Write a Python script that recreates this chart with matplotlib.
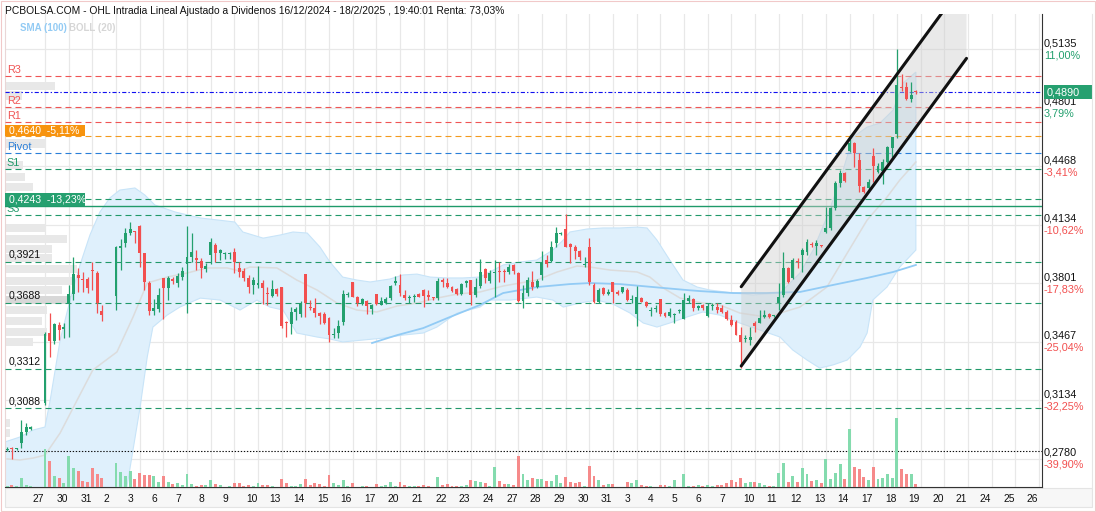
import numpy as np
import matplotlib
matplotlib.use('Agg')
import matplotlib.pyplot as plt
import matplotlib.transforms as mtransforms
from matplotlib.patches import Rectangle, Polygon
from matplotlib.lines import Line2D

plt.rcParams['font.family'] = ['Liberation Sans', 'DejaVu Sans']
plt.rcParams['lines.scale_dashes'] = False

# ---------------- datos ----------------
# posicion de cada vela (5 huecos por sesion, sesion 27/12 empieza en el hueco 8)
slot = list(range(0, 6)) + list(range(8, 21)) + list(range(23, 193))

op = [.2850, .2860, .2855, .2889, .2952, .2970,
      .3115, .3518, .3472, .3562, .3541, .3685, .3739, .3847, .3824, .3824, .3878, .3856, .3642,
      .3727, .3999, .4027, .4084, .4098, .4126, .3971, .3803, .3642, .3652,
      .3828, .3771, .3824, .3803, .3838, .3910, .3951, .3942, .3927, .3883,
      .3961, .4018, .3971, .3968, .3966, .3979, .3884, .3871, .3828, .3790,
      .3792, .3803, .3744, .3729, .3767, .3777, .3575, .3568, .3634, .3624,
      .3853, .3663, .3659, .3632, .3624, .3603, .3505, .3515, .3580, .3733,
      .3809, .3720, .3682, .3699, .3653, .3737, .3676, .3686, .3714, .3803,
      .3790, .3733, .3718, .3722, .3739, .3761, .3733, .3716, .3717, .3818,
      .3803, .3777, .3767, .3739, .3803, .3818, .3733, .3784, .3879, .3813,
      .3858, .3868, .3868, .3864, .3904, .3856, .3699, .3746, .3809, .3777,
      .3847, .3932, .3928, .4027, .4080, .4109, .4023, .4009, .3985, .3906,
      .4008, .3790, .3695, .3771, .3739, .3809, .3752, .3752, .3761, .3706,
      .3625, .3718, .3695, .3641, .3653, .3710, .3628, .3613, .3620, .3640,
      .3596, .3700, .3710, .3660, .3676, .3613, .3668, .3663, .3656, .3634,
      .3590, .3581, .3505, .3483, .3476, .3575, .3575, .3606, .3625, .3611,
      .3689, .3733, .3885, .3828, .3925, .3961, .3980, .4018, .4014, .4018,
      .4094, .4113, .4227, .4369, .4426, .4555, .4601, .4502, .4350, .4341,
      .4525, .4436, .4442, .4493, .4569, .4651, .4915, .4920, .4850, .4895]

hi = [.2865, .2865, .2862, .3020, .3003, .2985,
      .3520, .3630, .3575, .3581, .3573, .3790, .3951, .3885, .3866, .3837, .3923, .3871, .3676,
      .4015, .4050, .4113, .4151, .4098, .4132, .3975, .3810, .3710, .3771,
      .3830, .3841, .3836, .3860, .3890, .4126, .4086, .3990, .3942, .3915,
      .4056, .4028, .3994, .3979, .3979, .3999, .3923, .3885, .3847, .3836,
      .3898, .3818, .3777, .3818, .3775, .3780, .3585, .3663, .3667, .3699,
      .3853, .3704, .3714, .3638, .3636, .3609, .3546, .3590, .3761, .3748,
      .3809, .3727, .3716, .3704, .3682, .3741, .3721, .3721, .3790, .3842,
      .3853, .3761, .3733, .3740, .3744, .3767, .3761, .3721, .3828, .3828,
      .3828, .3785, .3771, .3800, .3818, .3818, .3830, .3936, .3885, .3875,
      .3932, .3923, .3879, .3907, .3907, .3862, .3790, .3836, .3871, .3826,
      .3985, .3961, .4042, .4119, .4094, .4195, .4029, .4018, .3991, .3947,
      .4056, .3799, .3770, .3777, .3765, .3809, .3761, .3780, .3771, .3733,
      .3784, .3723, .3699, .3666, .3676, .3710, .3638, .3657, .3628, .3655,
      .3742, .3733, .3716, .3676, .3682, .3687, .3690, .3686, .3676, .3650,
      .3620, .3590, .3552, .3505, .3552, .3583, .3648, .3650, .3630, .3619,
      .3799, .3980, .3894, .3942, .3942, .3999, .4050, .4037, .4046, .4020,
      .4236, .4236, .4385, .4445, .4435, .4645, .4607, .4540, .4354, .4392,
      .4569, .4487, .4506, .4582, .4635, .5133, .4992, .4949, .4949, .4900]

lo = [.2845, .2795, .2850, .2861, .2935, .2965,
      .3105, .3379, .3454, .3476, .3488, .3495, .3704, .3752, .3752, .3746, .3761, .3628, .3586,
      .3647, .3875, .4008, .4075, .4027, .3894, .3761, .3619, .3619, .3638,
      .3594, .3704, .3795, .3781, .3818, .3628, .3922, .3876, .3828, .3864,
      .3910, .3920, .3933, .3937, .3937, .3857, .3837, .3811, .3742, .3738,
      .3771, .3682, .3676, .3720, .3727, .3546, .3492, .3509, .3588, .3607,
      .3609, .3647, .3609, .3569, .3569, .3467, .3490, .3486, .3562, .3724,
      .3720, .3669, .3676, .3624, .3624, .3676, .3676, .3682, .3704, .3792,
      .3727, .3704, .3686, .3694, .3720, .3666, .3704, .3706, .3704, .3776,
      .3771, .3752, .3733, .3733, .3777, .3676, .3722, .3771, .3799, .3799,
      .3720, .3809, .3809, .3851, .3851, .3693, .3657, .3727, .3761, .3771,
      .3818, .3890, .3923, .4008, .4075, .4005, .3917, .3937, .3933, .3890,
      .3790, .3686, .3688, .3733, .3735, .3688, .3735, .3746, .3699, .3689,
      .3556, .3693, .3665, .3613, .3638, .3613, .3608, .3608, .3572, .3630,
      .3596, .3690, .3644, .3647, .3650, .3608, .3650, .3629, .3629, .3590,
      .3556, .3505, .3315, .3467, .3448, .3524, .3571, .3600, .3604, .3606,
      .3647, .3723, .3800, .3822, .3885, .3866, .3961, .4009, .3961, .4009,
      .4084, .4103, .4218, .4350, .4378, .4550, .4464, .4322, .4312, .4331,
      .4379, .4426, .4366, .4487, .4521, .4626, .4897, .4844, .4835, .4880]

cl = [.2855, .2855, .2858, .2952, .2980, .2980,
      .3509, .3472, .3568, .3533, .3552, .3738, .3853, .3832, .3818, .3774, .3872, .3685, .3619,
      .4008, .4011, .4084, .4109, .4090, .3971, .3809, .3642, .3657, .3733,
      .3771, .3828, .3813, .3841, .3870, .3951, .3980, .3932, .3885, .3898,
      .4037, .3974, .3989, .3972, .3972, .3919, .3866, .3828, .3780, .3818,
      .3803, .3771, .3741, .3765, .3737, .3556, .3572, .3634, .3653, .3682,
      .3689, .3660, .3632, .3615, .3575, .3505, .3510, .3556, .3738, .3738,
      .3723, .3686, .3710, .3672, .3676, .3682, .3699, .3710, .3784, .3815,
      .3746, .3718, .3721, .3727, .3723, .3727, .3723, .3714, .3813, .3809,
      .3777, .3758, .3739, .3794, .3815, .3733, .3777, .3866, .3828, .3856,
      .3862, .3864, .3864, .3893, .3871, .3699, .3742, .3818, .3780, .3813,
      .3923, .3909, .4008, .4088, .4086, .4008, .4009, .3981, .3947, .3910,
      .3809, .3695, .3761, .3739, .3752, .3752, .3739, .3777, .3704, .3710,
      .3720, .3695, .3670, .3645, .3657, .3623, .3613, .3634, .3625, .3644,
      .3704, .3713, .3660, .3670, .3660, .3670, .3672, .3647, .3634, .3596,
      .3562, .3505, .3467, .3487, .3495, .3556, .3603, .3619, .3609, .3614,
      .3723, .3885, .3809, .3932, .3922, .3989, .4037, .4016, .4031, .4015,
      .4113, .4227, .4369, .4426, .4384, .4601, .4544, .4354, .4322, .4379,
      .4468, .4468, .4493, .4578, .4632, .4930, .4912, .4848, .4873, .4890]

vol = [1.3, 2, 1.5, 8.7, 2, 1,
       38, 26, 11.5, 9.5, 4.5, 31.5, 18.7, 16.3, 6.3, 5.3, 19.3, 13, 9.3,
       23.7, 15.3, 11, 16.3, 7.7, 14.3, 12, 12, 11, 5.3,
       11, 4.7, 3, 3.7, 2, 12.7, 2.7, 1, 2, 2,
       7, 2.7, 2, 0.5, 1, 4, 4, 1.3, 2, 1,
       3.7, 2, 2, 1.3, 0.5, 8, 3.7, 1.3, 1.3, 2.7,
       7.7, 2, 3.7, 3, 1.3, 11.7, 3.7, 1.7, 7, 1.3,
       3.7, 0.5, 0.7, 1.3, 0.5, 2.7, 1.3, 2, 5.3, 1.3,
       4.7, 2, 1.3, 1, 1.3, 2, 1.3, 0.5, 9.7, 2,
       3, 0.7, 0.7, 1.3, 2, 7, 6, 5.3, 3.7, 1.3,
       19.7, 6.3, 2.7, 2.7, 1.7, 31, 12.7, 7, 8.7, 7.7,
       7.7, 6, 6, 11.7, 3.7, 9.7, 5.3, 3.7, 5.3, 1.3,
       21, 11, 7, 2, 3, 3, 0.5, 0.5, 4.7, 3.7,
       7, 2, 1.3, 1.3, 0.5, 1.7, 2, 1, 7, 0.5,
       13, 1.3, 1.3, 2, 1, 1.7, 1.5, 2, 1.7, 3.7,
       7.3, 5.3, 8.7, 4.3, 5.3, 5.3, 4.3, 1.7, 0.7, 0.7,
       13.7, 24.3, 4.7, 11.3, 5.3, 19.3, 12.7, 6, 7.3, 3.7,
       28.3, 8.3, 13.7, 23.3, 7.7, 57.7, 20.3, 17.7, 10.3, 6.7,
       20.3, 7.7, 9.3, 12.7, 9.3, 69.3, 18.3, 12.7, 12.7, 2.7]

# bandas de Bollinger (20) y SMA (100)
boll_up_x = [-0.45, 2.7, 5.5, 8.0, 9.1, 11.2, 13.3, 15.4, 17.5, 19.6, 21.7, 23.8, 27.0, 29.1, 31.2,
             35.5, 40.8, 48.1, 49.8, 54.1, 57.7, 60.4, 63.4, 66.1, 68.2, 70.9, 73.9, 76.7, 80.9,
             83.6, 86.6, 89.4, 93.0, 96.3, 99.9, 104.8, 108.4, 111.9, 115.3, 117.5, 118.9, 122.5,
             125.9, 129.5, 133.1, 135.2, 137.3, 140.0, 142.8, 145.8, 148.5, 153.4, 157.6, 163.3,
             167.5, 170.3, 173.2, 176.0, 178.7, 181.7, 184.4, 187.2, 189.3, 192.0]
boll_up = [.2895, .2923, .2963, .2980, .3134, .3476, .3704, .3904, .4075, .4206, .4286, .4331, .4343,
           .4303, .4246, .4206, .4172, .4149, .4092, .4057, .4075, .4092, .4086, .4006, .3921, .3835,
           .3818, .3807, .3824, .3847, .3852, .3835, .3830, .3830, .3835, .3904, .3921, .3932, .3989,
           .4046, .4092, .4109, .4115, .4115, .4120, .4115, .4046, .3932, .3818, .3778, .3761, .3744,
           .3733, .3744, .3858, .3989, .4177, .4388, .4633, .4690, .4713, .4787, .4941, .5004]
boll_lo_x = [-0.45, 8.0, 13.3, 19.6, 22.8, 25.3, 28.1, 29.6, 30.8, 33.8, 36.5, 40.8, 45.0, 49.2, 52.8,
             55.5, 58.3, 61.2, 65.5, 68.2, 70.9, 75.2, 79.4, 83.6, 87.9, 90.8, 95.1, 99.9, 102.0,
             106.3, 111.9, 115.3, 117.5, 121.0, 124.6, 128.0, 131.6, 134.4, 137.3, 140.0, 143.6,
             147.0, 150.6, 154.8, 163.3, 166.0, 169.0, 171.7, 174.5, 177.5, 180.2, 181.7, 182.9,
             185.9, 188.6, 192.0]
boll_lo = [.2592, .2610, .2222, .2222, .2393, .2638, .3094, .3379, .3550, .3618, .3664, .3715, .3704,
           .3647, .3704, .3664, .3647, .3516, .3493, .3482, .3465, .3476, .3487, .3504, .3516, .3550,
           .3630, .3664, .3704, .3704, .3721, .3704, .3664, .3687, .3704, .3681, .3630, .3573, .3550,
           .3573, .3607, .3636, .3618, .3573, .3493, .3419, .3362, .3316, .3334, .3362, .3436, .3516,
           .3704, .3778, .3892, .3989]
boll_mid_x = [0, 2.7, 5.5, 8.0, 11.2, 14.8, 18.1, 23.2, 26.6, 29.6, 33.8, 38.0, 42.2, 46.5, 49.2, 51.3,
              57.0, 61.2, 65.5, 69.7, 73.9, 78.1, 82.4, 86.6, 90.8, 95.1, 99.9, 104.8, 111.9, 116.2,
              120.4, 123.2, 127.4, 133.1, 135.8, 138.6, 142.2, 147.0, 150.6, 154.8, 160.5, 167.5,
              173.2, 177.5, 181.7, 185.9, 188.6, 192.0]
boll_mid = [.2798, .2792, .2803, .2820, .2946, .3134, .3305, .3408, .3607, .3801, .3835, .3858, .3887,
            .3887, .3869, .3892, .3887, .3818, .3761, .3687, .3647, .3636, .3670, .3687, .3715, .3738,
            .3750, .3784, .3818, .3864, .3898, .3892, .3875, .3864, .3835, .3773, .3715, .3687, .3676,
            .3630, .3607, .3664, .3778, .3972, .4160, .4291, .4388, .4491]
sma_x = [77.1, 82.4, 87.9, 93.0, 99.9, 104.8, 111.9, 118.9, 123.2, 129.5, 136.5, 143.6, 146.4, 153.4,
         160.5, 167.5, 174.5, 181.7, 187.2, 192.0]
sma = [.3459, .3504, .3544, .3601, .3676, .3744, .3778, .3795, .3801, .3795, .3778, .3761, .3755,
       .3744, .3744, .3750, .3790, .3830, .3864, .3904]

# volumen por precio (perfil a la izquierda)
prof_price = [.4924, .4870, .4596, .4474, .4405, .4348, .4115, .4052, .3995, .3944, .3881, .3813,
              .3761, .3704, .3647, .3584, .3522, .3465, .3003, .2946, .2820]
prof_vol = [50, 17, 40, 18, 20, 28, 40, 62, 47, 47, 72, 70, 57, 103, 42, 37, 42, 28, 5, 5, 5]

# canal alcista dibujado
chan_x = [155.1, 202.7]
chan_up = [0.3780, 0.5532]
chan_lo = [0.3328, 0.5082]

# pivotes (la etiqueta S2 queda tapada por la caja verde)
piv_names = ['R3', 'R2', 'R1', 'Pivot', 'S1', '', 'S3']
piv_prices = [0.4983, 0.4804, 0.4721, 0.4540, 0.4451, 0.4278, 0.4189]
piv_colors = ['#f05555', '#f05555', '#f05555', '#2a7fd8', '#21996a', '#21996a', '#21996a']

sup_prices = [0.3921, 0.3688, 0.3312, 0.3088]
sup_labels = ['0,3921', '0,3688', '0,3312', '0,3088']

last_price = 0.4890
ref_close = 0.2843
alert_hi = 0.4640
alert_lo = 0.4243

grid_prices = [0.5135, 0.4801, 0.4468, 0.4134, 0.3801, 0.3467, 0.3134, 0.2800]
price_labels = ['0,5135', '0,4801', '0,4468', '0,4134', '0,3801', '0,3467', '0,3134', '0,2780']
pct_labels = ['11,00%', '3,79%', '-3,41%', '-10,62%', '-17,83%', '-25,04%', '-32,25%', '-39,90%']

days = ['27', '30', '31', '2', '3', '6', '7', '8', '9', '10', '13', '14', '15', '16', '17', '20',
        '21', '22', '23', '24', '27', '28', '29', '30', '31', '3', '4', '5', '6', '7', '10', '11',
        '12', '13', '14', '17', '18', '19', '20', '21', '24', '25', '26']

GREEN = '#23a06e'
RED = '#f24f4f'

# ---------------- figura ----------------
fig = plt.figure(figsize=(10.96, 5.12), dpi=100)
ax = fig.add_axes([5 / 1096, 25 / 512, 1037 / 1096, 473 / 512])
ax.set_xlim(-0.45, 218.65)
ax.set_ylim(0.2638, 0.5335)

day_slots = 8 + 5 * np.arange(len(days))
ax.set_xticks(day_slots)
ax.set_yticks(grid_prices)
ax.tick_params(length=0, labelbottom=False, labelleft=False)
ax.grid(color='#e8e8e8', lw=0.9)
ax.set_axisbelow(True)
ax.spines['top'].set_visible(False)
ax.spines['left'].set_color('#ead6d6')
ax.spines['right'].set_color('#333333')
ax.spines['bottom'].set_color('#333333')

# perfil de volumen
pcol = ['#d8d8d8' if v == max(prof_vol) else '#e8e8e8' for v in prof_vol]
ax.barh(prof_price, np.array(prof_vol) / 4.733, height=0.0050, left=-0.45, color=pcol, lw=0, zorder=1)

# Bollinger + SMA
ax.fill(np.r_[boll_up_x, boll_lo_x[::-1]], np.r_[boll_up, boll_lo[::-1]],
        fc='#dff0fc', ec='#c8e4f8', lw=0.8, zorder=2)
ax.plot(boll_mid_x, boll_mid, color='#dcdcdc', lw=1.1, zorder=3)
ax.plot(sma_x, sma, color='#92cbf5', lw=1.3, zorder=3)

# lineas de nivel
dash = (0, (4.3, 2.9))
for p, c in zip(piv_prices, piv_colors):
    ax.axhline(p, color=c, lw=0.8, ls=dash, zorder=4)
for p in sup_prices:
    ax.axhline(p, color='#21996a', lw=0.8, ls=dash, zorder=4)
ax.axhline(last_price, color='#1010f0', lw=0.8, ls=(0, (3, 1.5, 1, 1.5)), zorder=4)
ax.axhline(alert_hi, color='#f39a1e', lw=0.8, ls=dash, zorder=4)
ax.axhline(alert_lo, color='#1f9a6a', lw=1.0, zorder=4)
ax.axhline(ref_close, color='#111111', lw=0.8, ls=(0, (1, 1.2)), zorder=4)

# canal
ax.add_patch(Polygon([(chan_x[0], chan_up[0]), (chan_x[1], chan_up[1]),
                      (chan_x[1], chan_lo[1]), (chan_x[0], chan_lo[0])],
                     fc='#cfcfcf', alpha=0.45, lw=0, zorder=5))

# velas
x = np.array(slot)
o, h, l, c = map(np.array, (op, hi, lo, cl))
up = c >= o
col = np.where(up, GREEN, RED)
ax.vlines(x, l, h, colors=col, lw=0.9, zorder=6)
body = np.maximum(np.abs(c - o), 0.0005)
ax.bar(x, body, bottom=np.minimum(o, c), width=0.62, color=col, lw=0, zorder=7)

ax.plot(chan_x, chan_up, color='#111111', lw=2.2, solid_capstyle='round', zorder=8)
ax.plot(chan_x, chan_lo, color='#111111', lw=2.2, solid_capstyle='round', zorder=8)

# volumen
axv = ax.twinx()
axv.set_ylim(0, 473)
axv.bar(x, vol, width=0.62, color=np.where(up, '#84dbae', '#f68a8a'), lw=0)
axv.axis('off')

# textos de niveles
off1 = mtransforms.offset_copy(ax.transData, fig=fig, y=1, units='dots')
off2 = mtransforms.offset_copy(ax.transData, fig=fig, y=2, units='dots')
for n, p, c in zip(piv_names, piv_prices, piv_colors):
    if n:
        ax.text(-0.1, p, n, transform=off1, color=c, fontsize=7.8, va='bottom', ha='left', zorder=9)
for s, p in zip(sup_labels, sup_prices):
    ax.text(0.3, p, s, transform=off2, color='#111111', fontsize=7.6, va='bottom', ha='left', zorder=9)

ax.add_patch(Rectangle((-0.45, alert_hi), 16.9, 0.0063, fc='#f7930e', lw=0, zorder=9))
ax.text(0.4, alert_hi + 0.0031, '0,4640  -5,11%', color='white', fontsize=7.6, va='center',
        ha='left', zorder=10)
ax.add_patch(Rectangle((-0.45, alert_lo), 16.9, 0.0074, fc='#26a070', lw=0, zorder=9))
ax.text(0.4, alert_lo + 0.0037, '0,4243  -13,23%', color='white', fontsize=7.6, va='center',
        ha='left', zorder=10)

# eje de precios a la derecha
bt = mtransforms.blended_transform_factory(ax.transAxes, ax.transData)
bt_up = mtransforms.offset_copy(bt, fig=fig, y=1, units='dots')
bt_dn = mtransforms.offset_copy(bt, fig=fig, y=-1, units='dots')
for p, s, pc in zip(grid_prices, price_labels, pct_labels):
    ax.text(1.0019, p, s, transform=bt_up, fontsize=7.8, color='#111111', va='bottom', ha='left',
            clip_on=False)
    ax.text(1.0019, p, pc, transform=bt_dn, fontsize=7.8,
            color=RED if pc.startswith('-') else GREEN, va='top', ha='left', clip_on=False)
ax.add_patch(Rectangle((1.0019, last_price - 0.0040), 0.0463, 0.0080, transform=bt,
                       fc='#26a070', lw=0, clip_on=False, zorder=10))
ax.text(1.0045, last_price, '0,4890', transform=bt, color='white', fontsize=7.8, va='center',
        ha='left', clip_on=False, zorder=11)

# fechas
xt = mtransforms.blended_transform_factory(ax.transData, ax.transAxes)
for d, s in zip(days, day_slots):
    ax.text(s - 2.54, -0.0253, d, transform=xt, fontsize=7.4, color='#111111', va='center',
            ha='left', clip_on=False)

# marco y cabecera
fig.add_artist(Rectangle((5 / 1096, 5 / 512), 1087 / 1096, 19 / 512, transform=fig.transFigure,
                         fc='#f7f7f7', ec='#e4e4e4', lw=0.8, zorder=-1))
fig.add_artist(Line2D([1092 / 1096, 1092 / 1096], [24 / 512, 498 / 512], transform=fig.transFigure,
                      color='#e6e6e6', lw=0.8))
fig.add_artist(Rectangle((0.0005, 0.001), 0.999, 0.998, transform=fig.transFigure, fill=False,
                         ec='#f1c9c9', lw=0.8))
fig.text(5 / 1096, 1 - 11 / 512,
         'PCBOLSA.COM - OHL Intradia Lineal Ajustado a Dividenos 16/12/2024 - 18/2/2025 , '
         '19:40:01 Renta: 73,03%', fontsize=7.35, color='#111111', va='center', ha='left')
fig.text(20 / 1096, 1 - 28 / 512, 'SMA (100)', fontsize=7.0, weight='bold', color='#93cbf4',
         va='center', ha='left')
fig.text(69 / 1096, 1 - 28 / 512, 'BOLL (20)', fontsize=7.0, weight='bold', color='#d6d6d6',
         va='center', ha='left')

fig.savefig('out.png', dpi=100)
